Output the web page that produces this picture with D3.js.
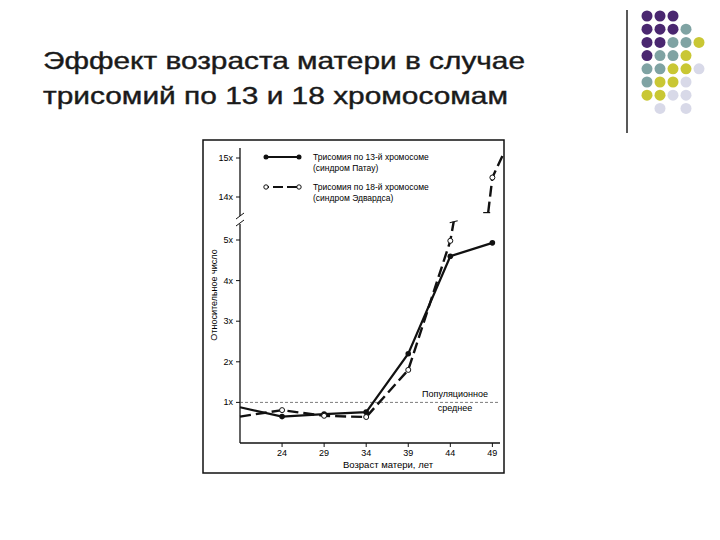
<!DOCTYPE html>
<html><head><meta charset="utf-8">
<script src="https://cdn.jsdelivr.net/npm/d3@7"></script>
<style>body{margin:0;background:#fff}</style>
</head><body>
<svg width="720" height="540"></svg>
<script>
// Данные
var ages = [19, 24, 29, 34, 39, 44, 49]
var patau = [0.88, 0.65, 0.71, 0.76, 2.2, 4.6, 4.93]
var edwardsLow = [0.65, 0.81, 0.67, 0.64, 1.8, 4.98]
var edwardsBreakLow = [44.4, 5.45]
var edwardsHighAges = [48.5, 49, 50.3]
var edwardsHigh = [13.6, 14.5, 15.1]
var lowTicks = [1, 2, 3, 4, 5]
var highTicks = [14, 15]
var xTicks = [24, 29, 34, 39, 44, 49]

var dotColors = [
  ["#4a2770", "#4a2770", "#4a2770"],
  ["#4a2770", "#4a2770", "#4a2770", "#7fa3a3"],
  ["#4a2770", "#4a2770", "#7fa3a3", "#7fa3a3", "#c9c734"],
  ["#4a2770", "#7fa3a3", "#7fa3a3", "#c9c734"],
  ["#7fa3a3", "#7fa3a3", "#c9c734", "#c9c734", "#d8d9e8"],
  ["#7fa3a3", "#c9c734", "#c9c734", "#d8d9e8"],
  ["#c9c734", "#c9c734", "#d8d9e8", "#d8d9e8"],
  [null, "#d8d9e8", null, "#d8d9e8"]
]

var svg = d3.select("svg")
var font = "Liberation Sans, Arial, sans-serif"

// Заголовок
svg.append("text").attr("x", 43).attr("y", 69).text("Эффект возраста матери в случае")
  .attr("font-family", font).attr("font-size", 24).attr("fill", "#1a1a1a")
  .attr("stroke", "#1a1a1a").attr("stroke-width", 0.4)
  .attr("textLength", 482).attr("lengthAdjust", "spacingAndGlyphs")
svg.append("text").attr("x", 43).attr("y", 104).text("трисомий по 13 и 18 хромосомам")
  .attr("font-family", font).attr("font-size", 24).attr("fill", "#1a1a1a")
  .attr("stroke", "#1a1a1a").attr("stroke-width", 0.4)
  .attr("textLength", 465).attr("lengthAdjust", "spacingAndGlyphs")

// Декор справа
svg.append("line").attr("x1", 627).attr("x2", 627).attr("y1", 10).attr("y2", 133)
  .attr("stroke", "#222").attr("stroke-width", 1.5)
dotColors.forEach(function(row, r) {
  row.forEach(function(c, i) {
    if (!c) return
    svg.append("circle").attr("cx", 647 + i * 13).attr("cy", 16 + r * 13.2).attr("r", 5.5).attr("fill", c)
  })
})

// Рамка
svg.append("rect").attr("x", 203).attr("y", 140).attr("width", 301).attr("height", 333)
  .attr("fill", "none").attr("stroke", "#111").attr("stroke-width", 1.5)

var x = d3.scaleLinear().domain([19, 50.5]).range([240, 505])
var yLow = d3.scaleLinear().domain([0, 5]).range([443, 240])
var yHigh = d3.scaleLinear().domain([14, 15]).range([197, 158])

var g = svg.append("g").attr("font-family", "Liberation Sans Narrow, Liberation Sans, sans-serif")

// Оси
g.append("line").attr("x1", 240).attr("x2", 240).attr("y1", 443).attr("y2", 224).attr("stroke", "#111").attr("stroke-width", 1.3)
g.append("line").attr("x1", 240).attr("x2", 240).attr("y1", 216).attr("y2", 148).attr("stroke", "#111").attr("stroke-width", 1.3)
g.append("line").attr("x1", 236).attr("x2", 244).attr("y1", 226).attr("y2", 220).attr("stroke", "#111")
g.append("line").attr("x1", 236).attr("x2", 244).attr("y1", 219).attr("y2", 213).attr("stroke", "#111")
g.append("line").attr("x1", 240).attr("x2", 500).attr("y1", 443).attr("y2", 443).attr("stroke", "#111").attr("stroke-width", 1.3)

lowTicks.forEach(function(t) {
  g.append("line").attr("x1", 236).attr("x2", 240).attr("y1", yLow(t)).attr("y2", yLow(t)).attr("stroke", "#111")
  g.append("text").attr("x", 233).attr("y", yLow(t) + 3).attr("text-anchor", "end").attr("font-size", 9).text(t + "x")
})
highTicks.forEach(function(t) {
  g.append("line").attr("x1", 236).attr("x2", 240).attr("y1", yHigh(t)).attr("y2", yHigh(t)).attr("stroke", "#111")
  g.append("text").attr("x", 233).attr("y", yHigh(t) + 3).attr("text-anchor", "end").attr("font-size", 9).text(t + "x")
})
xTicks.forEach(function(t) {
  g.append("line").attr("x1", x(t)).attr("x2", x(t)).attr("y1", 443).attr("y2", 447).attr("stroke", "#111")
  g.append("text").attr("x", x(t)).attr("y", 456).attr("text-anchor", "middle").attr("font-size", 9).text(t)
})

g.append("text").attr("transform", "translate(217,295) rotate(-90)").attr("text-anchor", "middle")
  .attr("font-size", 9).text("Относительное число")
g.append("text").attr("x", 388).attr("y", 468).attr("text-anchor", "middle").attr("font-size", 9.5).text("Возраст матери, лет")

// Популяционное среднее
g.append("line").attr("x1", 240).attr("x2", 498).attr("y1", yLow(1)).attr("y2", yLow(1))
  .attr("stroke", "#444").attr("stroke-width", 0.7).attr("stroke-dasharray", "3,2")
g.append("text").attr("x", 455).attr("y", 397).attr("text-anchor", "middle").attr("font-size", 9).text("Популяционное")
g.append("text").attr("x", 455).attr("y", 411).attr("text-anchor", "middle").attr("font-size", 9).text("среднее")

var lineLow = d3.line().x(function(d) { return x(d[0]) }).y(function(d) { return yLow(d[1]) })
var lineHigh = d3.line().x(function(d) { return x(d[0]) }).y(function(d) { return yHigh(d[1]) })

// Патау
var pData = ages.map(function(a, i) { return [a, patau[i]] })
g.append("path").attr("d", lineLow(pData)).attr("fill", "none").attr("stroke", "#111").attr("stroke-width", 2.2)
g.selectAll(".pdot").data(pData.slice(1)).enter().append("circle")
  .attr("cx", function(d) { return x(d[0]) }).attr("cy", function(d) { return yLow(d[1]) })
  .attr("r", 2.8).attr("fill", "#111")

// Эдвардс
var eData = ages.slice(0, 6).map(function(a, i) { return [a, edwardsLow[i]] })
eData.push(edwardsBreakLow)
var eHigh = edwardsHighAges.map(function(a, i) { return [a, edwardsHigh[i]] })
g.append("path").attr("d", lineLow(eData)).attr("fill", "none").attr("stroke", "#111").attr("stroke-width", 2.4).attr("stroke-dasharray", "11,5")
g.append("path").attr("d", lineHigh(eHigh)).attr("fill", "none").attr("stroke", "#111").attr("stroke-width", 2.4).attr("stroke-dasharray", "11,5")
g.append("line").attr("x1", x(edwardsBreakLow[0]) - 4).attr("x2", x(edwardsBreakLow[0]) + 4)
  .attr("y1", yLow(edwardsBreakLow[1]) + 1).attr("y2", yLow(edwardsBreakLow[1]) - 1).attr("stroke", "#111").attr("stroke-width", 1.2)
g.append("line").attr("x1", x(edwardsHighAges[0]) - 5).attr("x2", x(edwardsHighAges[0]) + 2)
  .attr("y1", yHigh(edwardsHigh[0])).attr("y2", yHigh(edwardsHigh[0])).attr("stroke", "#111").attr("stroke-width", 1.2)
var eDots = eData.slice(1, 6).concat([[49, 14.5]])
g.selectAll(".edot").data(eDots).enter().append("circle")
  .attr("cx", function(d) { return x(d[0]) }).attr("cy", function(d) { return d[1] > 10 ? yHigh(d[1]) : yLow(d[1]) })
  .attr("r", 2.5).attr("fill", "#fff").attr("stroke", "#111").attr("stroke-width", 1)

// Легенда
g.append("line").attr("x1", 265).attr("x2", 300).attr("y1", 157).attr("y2", 157).attr("stroke", "#111").attr("stroke-width", 2.2)
g.append("circle").attr("cx", 266).attr("cy", 157).attr("r", 2.5).attr("fill", "#111")
g.append("circle").attr("cx", 299).attr("cy", 157).attr("r", 2.5).attr("fill", "#111")
g.append("line").attr("x1", 266).attr("x2", 299).attr("y1", 187).attr("y2", 187).attr("stroke", "#111").attr("stroke-width", 2.2).attr("stroke-dasharray", "3,4,10,4,10,4")
g.append("circle").attr("cx", 266).attr("cy", 187).attr("r", 2.2).attr("fill", "#fff").attr("stroke", "#111")
g.append("circle").attr("cx", 299).attr("cy", 187).attr("r", 2.2).attr("fill", "#fff").attr("stroke", "#111")
var leg = [["Трисомия по 13-й хромосоме", 160], ["(синдром Патау)", 171], ["Трисомия по 18-й хромосоме", 190], ["(синдром Эдвардса)", 201]]
leg.forEach(function(l) {
  g.append("text").attr("x", 313).attr("y", l[1]).attr("font-size", 8.5).text(l[0])
})
</script>
</body></html>
